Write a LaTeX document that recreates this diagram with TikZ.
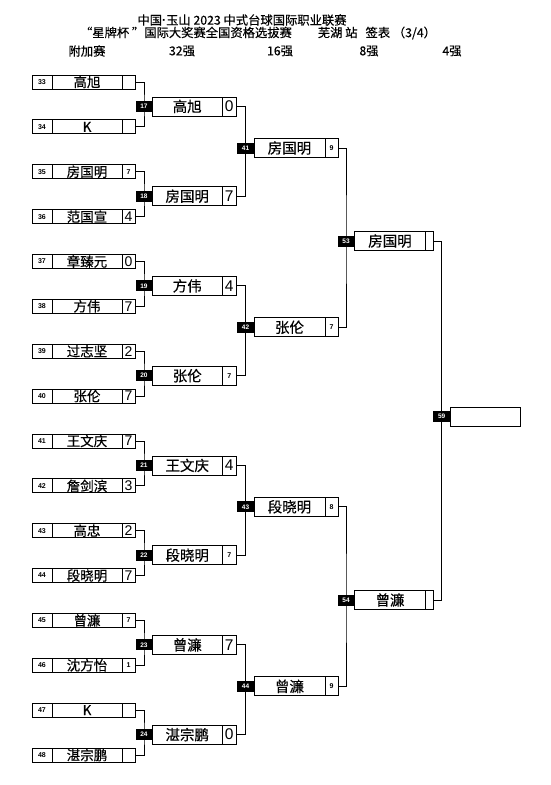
\documentclass[tikz,border=0pt]{standalone}
\usepackage{fontspec}
\setmainfont{Liberation Sans}
\newfontfamily\cjk[FakeBold=0.35]{Noto Sans CJK SC}
\usetikzlibrary{positioning}
\pgfdeclarelayer{background}
\pgfsetlayers{background,main}

\newcommand{\smallsc}[1]{{\fontsize{7}{7}\selectfont\bfseries #1}}
\newcommand{\bigsc}[1]{{\fontsize{14}{14}\selectfont #1}}
\newcommand{\Bigsc}[1]{{\fontsize{15.5}{16}\selectfont #1}}

\tikzset{
  cell/.style={draw, line width=0.8pt, fill=white, inner sep=0pt, outer sep=0pt},
  seedcell/.style={cell, minimum width=20pt, minimum height=14pt, font=\fontsize{7}{7}\selectfont\bfseries},
  namecell/.style={cell, minimum width=70pt, minimum height=14pt, font=\cjk\fontsize{13.5}{14}\selectfont},
  scorecell/.style={cell, minimum width=13pt, minimum height=14pt},
  tag/.style={fill=black, text=white, inner sep=0pt, outer sep=0pt, minimum width=17pt, minimum height=11pt, font=\fontsize{6.5}{7}\selectfont\bfseries},
  winbox/.style={cell, minimum width=71pt, minimum height=19pt, font=\cjk\fontsize{14.5}{15}\selectfont},
  winscore/.style={cell, minimum width=13pt, minimum height=19pt},
  link/.style={line width=0.9pt},
  head/.style={font=\cjk\fontsize{12.3}{13}\selectfont}
}

\begin{document}
\begin{tikzpicture}[x=1pt, y=-1pt]
\useasboundingbox (0,0) rectangle (550,785);
% title
\node[head] (title1) at (242,20) {中国{\rmfamily\bfseries ·}玉山 2023 中式台球国际职业联赛};
\node[head] (title2) at (258,33) {“星牌杯 ”国际大奖赛全国资格选拔赛\hspace{26pt}芜湖 站\hspace{8pt}签表 （3/4）};
% round headers
\foreach \x/\lbl [count=\i] in {87/附加赛, 182/32强, 280/16强, 369/8强, 452/4强}
  \node[head] (round\i) at (\x,51) {\lbl};

% first round
\foreach \s/\p/\r in {33/高旭/{}, 34/K/{}, 35/房国明/\smallsc{7}, 36/范国宣/\bigsc{4},
    37/章臻元/\bigsc{0}, 38/方伟/\bigsc{7}, 39/过志坚/\bigsc{2}, 40/张伦/\bigsc{7},
    41/王文庆/\bigsc{7}, 42/詹剑滨/\bigsc{3}, 43/高忠/\bigsc{2}, 44/段晓明/\bigsc{7},
    45/曾濂/\smallsc{7}, 46/沈方怡/\smallsc{1}, 47/K/{}, 48/湛宗鹏/{}} {
  \node[seedcell] (ps\s) at (42,{82+(\s-33)*44.87}) {\s};
  \node[namecell, right=0pt of ps\s] (pn\s) {\p};
  \node[scorecell, right=0pt of pn\s] (pc\s) {\r};
}

% 32 -> 16
\foreach \m/\up/\dn/\y/\p/\r in {17/33/34/106.4/高旭/\Bigsc{0}, 18/35/36/196.2/房国明/\Bigsc{7},
    19/37/38/285.9/方伟/\Bigsc{4}, 20/39/40/375.7/张伦/\smallsc{7},
    21/41/42/465.4/王文庆/\Bigsc{4}, 22/43/44/555.2/段晓明/\smallsc{7},
    23/45/46/644.9/曾濂/\Bigsc{7}, 24/47/48/734.6/湛宗鹏/\Bigsc{0}} {
  \node[tag] (t\m) at (144,\y) {\m};
  \node[winbox, minimum width=69.5pt, right=0pt of t\m] (m\m) {\p};
  \node[winscore, minimum width=14.5pt, right=0pt of m\m] (w\m) {\r};
  \begin{pgfonlayer}{background}
    \draw[link] (pc\up.east) -| (t\m.center) |- (pc\dn.east);
  \end{pgfonlayer}
}

% 16 -> 8
\foreach \m/\up/\dn/\y/\p/\r in {41/17/18/148/房国明/\smallsc{9}, 42/19/20/327.3/张伦/\smallsc{7},
    43/21/22/506.8/段晓明/\smallsc{8}, 44/23/24/686.3/曾濂/\smallsc{9}} {
  \node[tag] (t\m) at (245.5,\y) {\m};
  \node[winbox, right=0pt of t\m] (m\m) {\p};
  \node[winscore, right=0pt of m\m] (w\m) {\r};
  \begin{pgfonlayer}{background}
    \draw[link] (w\up.east) -| (t\m.center) |- (w\dn.east);
  \end{pgfonlayer}
}

% 8 -> 4
\foreach \m/\up/\dn/\y/\p in {53/41/42/241/房国明, 54/43/44/600/曾濂} {
  \node[tag] (t\m) at (346,\y) {\m};
  \node[winbox, minimum height=18.5pt, right=0pt of t\m] (m\m) {\p};
  \node[winscore, minimum width=8pt, minimum height=18.5pt, right=0pt of m\m] (w\m) {};
  \begin{pgfonlayer}{background}
    \draw[link] (w\up.east) -| (t\m.center) |- (w\dn.east);
  \end{pgfonlayer}
}

% last slot
\node[tag] (t59) at (441.7,416.7) {59};
\node[winbox, minimum width=70.5pt, minimum height=18.7pt, right=0pt of t59] (m59) {};
\begin{pgfonlayer}{background}
  \draw[link] (w53.east) -| (t59.center) |- (w54.east);
\end{pgfonlayer}
\end{tikzpicture}
\end{document}
